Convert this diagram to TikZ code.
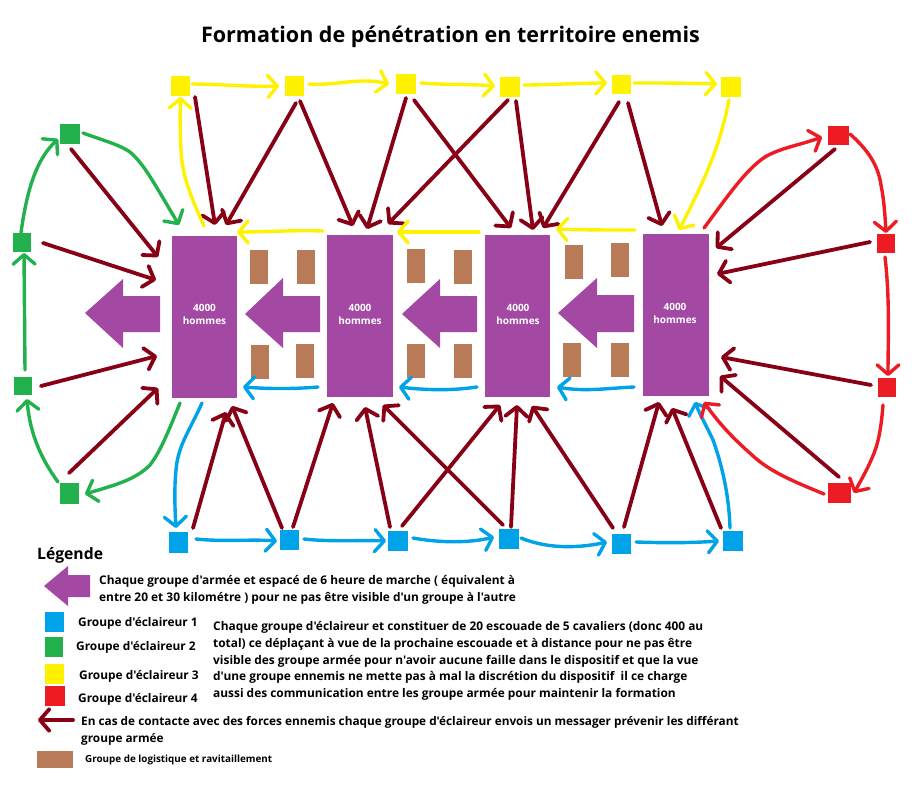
\documentclass[tikz,border=0pt]{standalone}
\usepackage{fontspec}
\setmainfont{Open Sans}[Ligatures=TeXOff]
\usetikzlibrary{arrows.meta,calc}
\definecolor{cpurple}{HTML}{A349A4}
\definecolor{cbrown}{HTML}{B97A57}
\definecolor{cblue}{HTML}{00A2E8}
\definecolor{cgreen}{HTML}{22B14C}
\definecolor{cyellow}{HTML}{FFF200}
\definecolor{cred}{HTML}{ED1C24}
\definecolor{cdark}{HTML}{880015}
\tikzset{
  x=1pt,y=-1pt,
  scout/.style={rectangle,inner sep=0pt,minimum width=19.5pt,minimum height=19.5pt},
  army/.style={rectangle,fill=cpurple,inner sep=0pt,minimum width=65.5pt,minimum height=162pt},
  armytext/.style={text=white,font=\bfseries\fontsize{10}{13}\selectfont,align=center,inner sep=0pt},
  supply/.style={rectangle,fill=cbrown,inner sep=0pt,minimum width=18pt,minimum height=34pt},
  bigarrow/.style={fill=cpurple},
  barb/.style={-{Straight Barb[length=9.5pt,width=22pt,round]},line cap=round,line join=round},
  msg/.style={barb,draw=cdark,line width=3.8pt},
  yline/.style={barb,draw=cyellow,line width=3.4pt},
  gline/.style={barb,draw=cgreen,line width=3.4pt},
  bline/.style={barb,draw=cblue,line width=3.4pt},
  rline/.style={barb,draw=cred,line width=3.4pt},
  legendtext/.style={font=\bfseries\fontsize{11.9}{17}\selectfont,align=left,anchor=west,inner sep=0pt,text=black},
}
\begin{document}
\begin{tikzpicture}
\useasboundingbox (0,0) rectangle (912,800);
\fill[white] (0,0) rectangle (912,800);
\node[font=\bfseries\fontsize{21.5}{25}\selectfont,inner sep=0pt] (title) at (450.5,36.5) {Formation de pénétration en territoire enemis};
% armies
\node[army] (a1) at (204.5,316.5) {};
\node[army] (a2) at (360,316) {};
\node[army] (a3) at (517.5,316) {};
\node[army] (a4) at (676,315) {};
\node[armytext] (t1) at (204.5,314.5) {4000\\hommes};
\node[armytext] (t2) at (360,314.5) {4000\\hommes};
\node[armytext] (t3) at (518,314) {4000\\hommes};
\node[armytext] (t4) at (675,313.5) {4000\\hommes};
% movement arrows
\fill[bigarrow] (85,313) -- (123,279) -- (123,296) -- (160,296) -- (160,332) -- (123,332) -- (123,348) -- cycle;
\fill[bigarrow] (245,314) -- (283,278) -- (283,296) -- (320,296) -- (320,332) -- (283,332) -- (283,348) -- cycle;
\fill[bigarrow] (402,314) -- (440,279) -- (440,296) -- (477,296) -- (477,332) -- (440,332) -- (440,348) -- cycle;
\fill[bigarrow] (558,313) -- (597,278) -- (597,295) -- (634,295) -- (634,332) -- (597,332) -- (597,348) -- cycle;
% supply
\node[supply] (s1) at (259,267) {};
\node[supply] (s2) at (306,267) {};
\node[supply] (s3) at (416,266) {};
\node[supply] (s4) at (463,266.5) {};
\node[supply] (s5) at (574,261.5) {};
\node[supply] (s6) at (620,260) {};
\node[supply] (s7) at (260,362) {};
\node[supply] (s8) at (305,361) {};
\node[supply] (s9) at (416,361) {};
\node[supply] (s10) at (463,361) {};
\node[supply] (s11) at (572,360) {};
\node[supply] (s12) at (620,360) {};
% scouts
\node[scout,fill=cyellow] (y1) at (180.5,86) {};
\node[scout,fill=cyellow] (y2) at (294.5,86) {};
\node[scout,fill=cyellow] (y3) at (406,84) {};
\node[scout,fill=cyellow] (y4) at (510,87) {};
\node[scout,fill=cyellow] (y5) at (621.5,84.5) {};
\node[scout,fill=cyellow] (y6) at (731,87) {};
\node[scout,fill=cgreen] (g1) at (70,134) {};
\node[scout,fill=cgreen,minimum width=18pt] (g2) at (22,242.5) {};
\node[scout,fill=cgreen,minimum width=18pt,minimum height=18pt] (g3) at (22.5,386) {};
\node[scout,fill=cgreen,minimum height=21pt] (g4) at (69.5,493.5) {};
\node[scout,fill=cblue,minimum height=21pt] (b1) at (178.5,542.5) {};
\node[scout,fill=cblue] (b2) at (289.5,540) {};
\node[scout,fill=cblue] (b3) at (398,541) {};
\node[scout,fill=cblue] (b4) at (509,539) {};
\node[scout,fill=cblue] (b5) at (621.5,544) {};
\node[scout,fill=cblue] (b6) at (733,541) {};
\node[scout,fill=cred,minimum width=21pt] (r1) at (838.5,135.5) {};
\node[scout,fill=cred,minimum width=18pt] (r2) at (886,243.5) {};
\node[scout,fill=cred,minimum width=18pt] (r3) at (886.5,387.5) {};
\node[scout,fill=cred,minimum width=23pt,minimum height=20pt] (r4) at (839.5,493) {};
% messenger arrows
\draw[msg] ($(y1)+(14.5,11)$) -- ($(a1)+(10.5,-91.5)$);
\draw[msg] ($(y2)+(1.5,17)$) -- ($(a1)+(21.5,-91.5)$);
\draw[msg] ($(y2)+(5.5,15)$) -- ($(a2)+(-7,-90)$);
\draw[msg] ($(y3)+(0,14)$) -- ($(a2)+(7,-87)$);
\draw[msg] ($(y3)+(8,16)$) -- ($(a3)+(-6.5,-88)$);
\draw[msg] ($(y4)+(-2,13)$) -- ($(a2)+(28,-92)$);
\draw[msg] ($(y4)+(6,14)$) -- ($(a3)+(15.5,-86)$);
\draw[msg] ($(y5)+(-2.5,17.5)$) -- ($(a3)+(25.5,-88)$);
\draw[msg] ($(y5)+(6.5,18.5)$) -- ($(a4)+(-14,-89)$);
\draw[msg] ($(r1)+(-3.5,13.5)$) -- ($(a4)+(40,-67)$);
\draw[msg] ($(r2)+(-16,-1.5)$) -- ($(a4)+(41,-41)$);
\draw[msg] ($(r3)+(-15.5,-2.5)$) -- ($(a4)+(45,42)$);
\draw[msg] ($(r4)+(-.5,-16)$) -- ($(a4)+(44,61)$);
\draw[msg] ($(b6)+(-12,-13)$) -- ($(a4)+(-4,93)$);
\draw[msg] ($(b5)+(2.5,-17)$) -- ($(a4)+(-17,87)$);
\draw[msg] ($(b5)+(-8.5,-16)$) -- ($(a3)+(14.5,90)$);
\draw[msg] ($(b4)+(2,-12)$) -- ($(a3)+(-.5,89)$);
\draw[msg] ($(b3)+(4,-15)$) -- ($(a3)+(-17.5,89)$);
\draw[msg] ($(b4)+(-6,-14)$) -- ($(a2)+(23,89)$);
\draw[msg] ($(b3)+(-8,-14)$) -- ($(a2)+(5,91)$);
\draw[msg] ($(b2)+(3.5,-13)$) -- ($(a2)+(-27,87)$);
\draw[msg] ($(b2)+(-7.5,-12)$) -- ($(a1)+(27.5,89.5)$);
\draw[msg] ($(b1)+(14.5,-14.5)$) -- ($(a1)+(21.5,95.5)$);
\draw[msg] ($(g4)+(-.5,-20.5)$) -- ($(a1)+(-46.5,71.5)$);
\draw[msg] ($(g3)+(18.5,0)$) -- ($(a1)+(-47.5,39.5)$);
\draw[msg] ($(g2)+(21,.5)$) -- ($(a1)+(-48.5,-36.5)$);
\draw[msg] ($(g1)+(1,15)$) -- ($(a1)+(-46.5,-59.5)$);
% green chain
\draw[gline] ($(g3)+(2.5,-16)$) -- ($(g2)+(2,10.5)$);
\draw[gline] ($(g2)+(-1,-10)$) .. controls (27,190) and (36,160) .. ($(g1)+(-12,5)$);
\draw[gline] ($(g1)+(13,-1)$) .. controls (105,141) and (120,145) .. (130,152) .. controls (145,165) and (155,185) .. ($(a1)+(-25.5,-91.5)$);
\draw[gline] ($(a1)+(-24.5,86.5)$) .. controls (167,435) and (160,452) .. (150,465) .. controls (135,480) and (115,485) .. ($(g4)+(15.5,.5)$);
\draw[gline] ($(g4)+(-11.5,-11.5)$) .. controls (42,460) and (30,435) .. ($(g3)+(4.5,13)$);
% blue chain
\draw[bline] ($(a1)+(-2.5,86.5)$) .. controls (190,430) and (178,445) .. (176,470) .. controls (174,490) and (175,510) .. ($(b1)+(-2.5,-14.5)$);
\draw[bline] ($(b1)+(17.5,-3.5)$) .. controls (225,542) and (250,539) .. ($(b2)+(-12.5,1)$);
\draw[bline] ($(b2)+(14.5,-1)$) .. controls (330,542) and (360,540) .. ($(b3)+(-12,0)$);
\draw[bline] ($(b3)+(15,-3)$) .. controls (440,543) and (470,543) .. ($(b4)+(-15,-2)$);
\draw[bline] ($(b4)+(12,-1)$) .. controls (545,548) and (575,549) .. ($(b5)+(-14.5,-2)$);
\draw[bline] ($(b5)+(14.5,-2)$) .. controls (665,543) and (690,543) .. ($(b6)+(-14,0)$);
\draw[bline] ($(b6)+(-3,-13)$) .. controls (729,495) and (722,465) .. (713,440) .. controls (706,425) and (700,415) .. ($(a4)+(19,87)$);
\draw[bline] ($(a2)+(-42,71)$) .. controls (295,389) and (270,389) .. ($(a1)+(38.5,70.5)$);
\draw[bline] ($(a3)+(-40.5,71)$) .. controls (450,391) and (425,390) .. ($(a2)+(39,71)$);
\draw[bline] ($(a4)+(-42,72)$) .. controls (610,388) and (585,392) .. ($(a3)+(39.5,71)$);
% yellow chain
\draw[yline] ($(a1)+(-.5,-90.5)$) .. controls (190,195) and (182,175) .. (181,150) .. controls (180,130) and (180,115) .. ($(y1)+(0,11)$);
\draw[yline] ($(y1)+(11.5,-2)$) .. controls (215,84) and (250,87) .. ($(y2)+(-15.5,0)$);
\draw[yline] ($(y2)+(14.5,-2)$) .. controls (335,86) and (360,77) .. ($(y3)+(-17,0)$);
\draw[yline] ($(y3)+(15,-1)$) .. controls (445,85) and (470,84) .. ($(y4)+(-15,-1)$);
\draw[yline] ($(y4)+(14,-2)$) .. controls (550,85) and (580,83) .. ($(y5)+(-14.5,-1.5)$);
\draw[yline] ($(y5)+(12.5,-1.5)$) .. controls (660,83) and (690,83) .. ($(y6)+(-14,-3)$);
\draw[yline] ($(y6)+(-2,13)$) .. controls (721,140) and (710,170) .. ($(a4)+(3,-85)$);
\draw[yline] ($(a2)+(-37,-85)$) .. controls (295,230) and (265,232) .. ($(a1)+(32.5,-84.5)$);
\draw[yline] ($(a3)+(-38.5,-84)$) .. controls (450,232) and (425,232) .. ($(a2)+(37,-84)$);
\draw[yline] ($(a4)+(-41,-85)$) .. controls (610,230) and (580,230) .. ($(a3)+(38.5,-87)$);
% red chain
\draw[rline] ($(a4)+(28,-87)$) .. controls (725,200) and (745,170) .. (765,157) .. controls (780,148) and (800,145) .. ($(r1)+(-16.5,1.5)$);
\draw[rline] ($(r1)+(11.5,-1.5)$) .. controls (868,150) and (878,165) .. (881,185) .. controls (884,200) and (885,215) .. ($(r2)+(0,-10.5)$);
\draw[rline] ($(r2)+(-1,13.5)$) .. controls (890,300) and (888,340) .. ($(r3)+(1.5,-11.5)$);
\draw[rline] ($(r3)+(-3.5,17.5)$) .. controls (881,430) and (878,445) .. (872,458) .. controls (867,470) and (860,482) .. ($(r4)+(14.5,0)$);
\draw[rline] ($(r4)+(-15.5,1)$) .. controls (795,482) and (770,472) .. (752,455) .. controls (735,440) and (720,425) .. ($(a4)+(28,87)$);
% legend
\node[font=\bfseries\fontsize{15.7}{17}\selectfont,anchor=west,inner sep=0pt] (legtitle) at (37,555.5) {Légende};
\fill[bigarrow] (44,586) -- (68,566) -- (68,575) -- (90,575) -- (90,597) -- (68,597) -- (68,606) -- cycle;
\node[legendtext] (l1) at (99,589.5) {Chaque groupe d'armée et espacé de 6 heure de marche ( équivalent à\\entre 20 et 30 kilométre ) pour ne pas être visible d'un groupe à l'autre};
\node[scout,fill=cblue] (kb) at (54.5,622) {};
\node[scout,fill=cgreen,minimum width=18pt] (kg) at (54,647) {};
\node[scout,fill=cyellow] (ky) at (54.5,674) {};
\node[scout,fill=cred,minimum width=20.5pt] (kr) at (55,696) {};
\node[legendtext] (lb) at (78,623.5) {Groupe d'éclaireur 1};
\node[legendtext] (lg) at (76,647.5) {Groupe d'éclaireur 2};
\node[legendtext] (ly) at (79,676.5) {Groupe d'éclaireur 3};
\node[legendtext] (lr) at (78,699.5) {Groupe d'éclaireur 4};
\node[legendtext,font=\bfseries\fontsize{11.9}{16.8}\selectfont] (lp) at (213,661) {Chaque groupe d'éclaireur et constituer de 20 escouade de 5 cavaliers (donc 400 au\\total) ce déplaçant à vue de la prochaine escouade et à distance pour ne pas être\\visible des groupe armée pour n'avoir aucune faille dans le dispositif et que la vue\\d'une groupe ennemis ne mette pas à mal la discrétion du dispositif\ \ il ce charge\\aussi des communication entre les groupe armée pour maintenir la formation};
\coordinate (kms) at (73,720);
\coordinate (kme) at (38,720);
\draw[msg] (kms) -- (kme);
\node[legendtext,font=\bfseries\fontsize{11.8}{17}\selectfont] (lm) at (81,730.5) {En cas de contacte avec des forces ennemis chaque groupe d'éclaireur envois un messager prévenir les différant\\groupe armée};
\node[supply,minimum width=36pt,minimum height=17pt] (kl) at (55,759.5) {};
\node[legendtext,font=\bfseries\fontsize{9.85}{11}\selectfont] (ll) at (85,760) {Groupe de logistique et ravitaillement};
\end{tikzpicture}
\end{document}
